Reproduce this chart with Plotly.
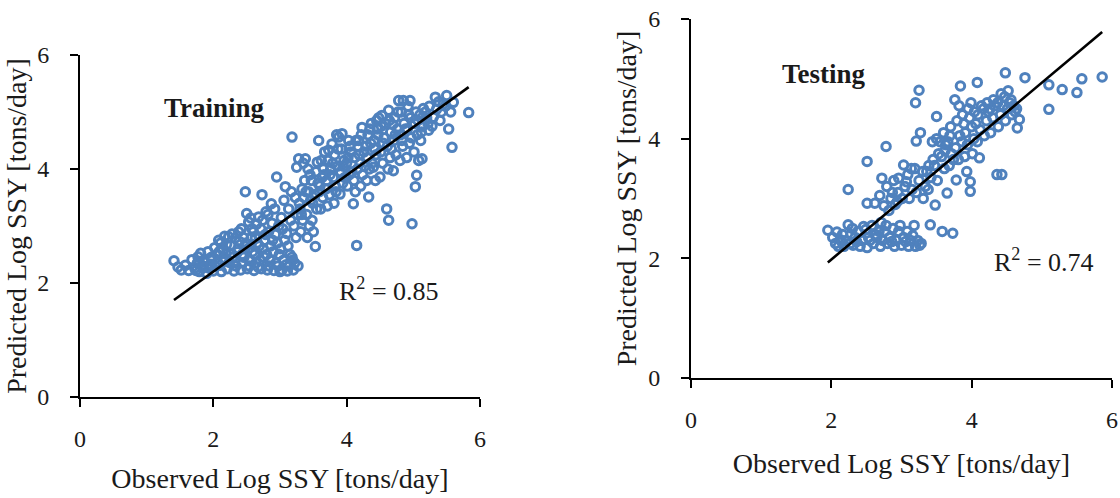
import plotly.graph_objects as go

# Training set: observed vs predicted log suspended sediment yield
train_observed = [
    1.41,
    1.52, 1.47,
    1.63, 1.58,
    1.72, 1.68, 1.76,
    1.79, 1.83, 1.77, 1.81, 1.86,
    1.90, 1.94, 1.88, 1.97, 1.92,
    2.00, 2.03, 1.98, 2.06, 2.02, 2.08,
    2.12, 2.10, 2.15, 2.14, 2.11, 2.17,
    2.21, 2.24, 2.19, 2.26, 2.23, 2.28,
    2.31, 2.34, 2.30, 2.37, 2.33, 2.39,
    2.41, 2.44, 2.43, 2.47, 2.45, 2.42,
    2.51, 2.55, 2.52, 2.57, 2.53, 2.50, 2.48, 2.56,
    2.61, 2.64, 2.62, 2.66, 2.60, 2.68, 2.65,
    2.72, 2.70, 2.75, 2.77, 2.71, 2.74, 2.73,
    2.81, 2.84, 2.80, 2.86, 2.83, 2.88, 2.82, 2.87,
    2.91, 2.94, 2.90, 2.96, 2.93, 2.98, 2.92, 2.95,
    3.00, 3.03, 3.05, 3.01, 3.07, 3.04, 3.02, 3.06, 3.08,
    3.11, 3.14, 3.19, 3.10, 3.16, 3.13, 3.17,
    3.20, 3.22, 3.18, 3.24, 3.21, 3.26, 3.23, 3.25, 3.28, 3.18,
    3.31, 3.34, 3.30, 3.36, 3.33, 3.37, 3.35,
    3.41, 3.44, 3.40, 3.46, 3.43, 3.47, 3.42, 3.38,
    3.53, 3.50, 3.48, 3.55, 3.52, 3.57, 3.54, 3.56,
    3.61, 3.64, 3.60, 3.66, 3.62, 3.67, 3.58,
    3.71, 3.74, 3.70, 3.76, 3.72, 3.73,
    3.81, 3.84, 3.80, 3.86, 3.82, 3.78, 3.85,
    3.90, 3.94, 3.91, 3.96, 3.92, 3.88,
    4.01, 4.04, 4.00, 4.06, 4.03, 3.93,
    4.10, 4.13, 4.11, 4.16, 4.12, 4.17, 4.14,
    4.15,
    4.21, 4.24, 4.20, 4.26, 4.18, 4.23,
    4.33, 4.30, 4.34, 4.31, 4.36, 4.32, 4.37,
    4.40, 4.44, 4.41, 4.46, 4.45, 4.43,
    4.50, 4.54, 4.51, 4.56, 4.52, 4.53,
    4.60, 4.63, 4.62, 4.65, 4.61, 4.66, 4.64, 4.63,
    4.70, 4.74, 4.71, 4.76, 4.72,
    4.80, 4.84, 4.81, 4.86, 4.82, 4.78,
    4.90, 4.94, 4.91, 4.96, 4.92, 4.85,
    4.98, 5.03, 5.05, 5.01, 5.06, 5.02, 5.04, 4.95,
    5.08, 5.13, 5.11, 5.14, 5.10, 5.15,
    5.23, 5.20, 5.24,
    5.30, 5.33, 5.28, 5.35,
    5.45, 5.40, 5.42,
    5.50, 5.53, 5.48,
    5.58, 5.60, 5.56,
    5.83,
    1.74, 1.85, 1.96, 2.05, 2.09, 2.18, 2.20, 2.27, 2.32, 2.36,
    2.38, 2.46, 2.49, 2.54, 2.58, 2.59, 2.63, 2.67, 2.69, 2.76,
    2.78, 2.79, 2.85, 2.89, 2.97, 2.99, 3.09, 3.12, 3.15, 3.27,
    3.29, 3.32, 3.39, 3.45, 3.49, 3.59, 3.63, 3.65, 3.69, 3.75,
    3.79, 3.83, 3.87, 3.95, 3.97, 4.02, 4.05, 4.08, 4.19, 4.22,
    4.27, 4.29, 4.35, 4.38, 4.42, 4.47, 4.48, 4.55, 4.58, 4.67,
    4.69, 4.73, 4.77, 4.83, 4.88, 4.93, 4.97, 5.07, 5.12, 5.18,
    5.22, 5.38,
]
train_predicted = [
    2.39,
    2.23, 2.28,
    2.22, 2.31,
    2.26, 2.41, 2.35,
    2.20, 2.31, 2.46, 2.52, 2.38,
    2.17, 2.26, 2.36, 2.45, 2.55,
    2.21, 2.29, 2.40, 2.50, 2.62, 2.75,
    2.20, 2.31, 2.44, 2.58, 2.70, 2.82,
    2.25, 2.36, 2.51, 2.66, 2.81, 2.86,
    2.21, 2.30, 2.46, 2.60, 2.79, 2.73,
    2.23, 2.35, 2.50, 2.65, 2.80, 2.95,
    2.25, 2.40, 2.60, 2.80, 3.07, 3.22, 3.60, 3.14,
    2.22, 2.35, 2.50, 2.70, 2.90, 3.16, 3.03,
    2.25, 2.40, 2.60, 2.75, 2.95, 3.10, 3.55,
    2.23, 2.30, 2.50, 2.65, 2.90, 3.05, 3.20, 3.39,
    2.22, 2.35, 2.55, 2.70, 2.85, 3.00, 3.30, 3.86,
    2.20, 2.23, 2.40, 2.60, 2.75, 2.95, 3.15, 3.45, 3.69,
    2.21, 2.30, 2.40, 2.87, 3.10, 3.30, 3.60,
    2.23, 2.35, 2.45, 2.80, 3.00, 3.20, 3.50, 4.03, 4.18, 4.56,
    2.90, 3.10, 3.30, 3.50, 3.65, 3.80, 4.10,
    2.80, 3.00, 3.20, 3.45, 3.60, 3.80, 4.00, 4.18,
    2.64, 2.90, 3.10, 3.30, 3.55, 3.75, 3.95, 4.12,
    3.30, 3.50, 3.70, 3.90, 4.15, 4.30, 4.50,
    3.35, 3.55, 3.80, 4.00, 4.15, 4.33,
    3.40, 3.60, 3.85, 4.05, 4.25, 4.44, 4.60,
    3.56, 3.75, 3.95, 4.15, 4.35, 4.56,
    3.70, 3.90, 4.10, 4.30, 4.50, 4.62,
    3.39, 3.60, 3.80, 4.00, 4.20, 4.40, 4.50,
    2.66,
    3.70, 3.90, 4.10, 4.30, 4.50, 4.73,
    3.51, 3.80, 4.00, 4.20, 4.45, 4.60, 4.80,
    4.03, 4.25, 4.50, 4.70, 4.85, 3.80,
    3.86, 4.10, 4.30, 4.55, 4.75, 4.94,
    3.30, 3.10, 4.00, 4.20, 4.40, 4.65, 4.85, 5.03,
    3.97, 4.25, 4.50, 4.70, 4.90,
    4.15, 4.40, 4.60, 4.80, 5.00, 5.20,
    4.20, 4.45, 4.70, 4.90, 5.10, 5.20,
    3.04, 3.69, 3.89, 4.30, 4.60, 4.80, 5.00, 5.20,
    4.15, 4.18, 4.50, 4.75, 4.95, 5.06,
    4.68, 4.90, 5.10,
    4.91, 5.26, 4.75, 5.05,
    5.14, 4.85, 5.00,
    5.29, 4.70, 5.10,
    4.38, 5.17, 5.00,
    4.99,
    2.22, 2.27, 2.33, 2.36, 2.55, 2.40, 2.68, 2.52, 2.38, 2.55,
    2.90, 2.45, 2.70, 2.30, 2.95, 2.55, 2.80, 2.28, 2.65, 2.45,
    2.85, 3.25, 2.40, 2.75, 2.30, 2.50, 2.32, 2.65, 2.50, 2.30,
    3.40, 3.20, 3.60, 3.90, 3.40, 3.60, 3.85, 4.00, 3.65, 3.90,
    4.10, 3.70, 4.35, 4.05, 3.85, 4.20, 4.40, 3.95, 4.25, 4.60,
    4.05, 4.40, 4.70, 4.10, 4.35, 4.60, 4.90, 4.45, 4.80, 4.35,
    4.78, 4.60, 5.00, 4.50, 4.70, 4.95, 4.55, 4.85, 4.65, 5.00,
    4.80, 5.18,
]

# Testing set
test_observed = [
    1.95,
    2.02, 2.06,
    2.10, 2.13, 2.08,
    2.18, 2.21, 2.16, 2.24,
    2.24, 2.27,
    2.31, 2.34, 2.30,
    2.41, 2.44, 2.38, 2.46,
    2.51, 2.53, 2.49, 2.51, 2.51,
    2.60, 2.63, 2.58, 2.62,
    2.70, 2.73, 2.68, 2.71, 2.75, 2.69, 2.72,
    2.80, 2.83, 2.78, 2.82, 2.85, 2.79, 2.78,
    2.90, 2.93, 2.88, 2.91, 2.95, 2.89,
    3.00, 3.03, 2.98, 3.01, 3.05, 2.96, 3.03,
    3.10, 3.13, 3.08, 3.11, 3.15, 3.09,
    3.20, 3.23, 3.18, 3.21, 3.25, 3.19, 3.21, 3.20,
    3.28, 3.31, 3.34, 3.30, 3.27, 3.25,
    3.41, 3.38, 3.42, 3.39, 3.44,
    3.48, 3.51, 3.47, 3.53, 3.50, 3.50,
    3.58, 3.61, 3.57, 3.63, 3.60,
    3.65, 3.73, 3.68, 3.71, 3.66, 3.70,
    3.78, 3.81, 3.77, 3.83, 3.79, 3.82, 3.76,
    3.84, 3.87,
    3.93, 3.90, 3.94, 3.91, 3.95,
    3.98, 3.98, 4.01, 4.03, 4.00, 4.04, 3.99,
    4.11, 4.08, 4.12, 4.09, 4.08,
    4.18, 4.21, 4.17, 4.22,
    4.27, 4.30, 4.26, 4.31,
    4.36, 4.43, 4.38, 4.41, 4.37, 4.42,
    4.48, 4.51, 4.47, 4.52, 4.48,
    4.57, 4.60, 4.56,
    4.65, 4.68, 4.64,
    4.76,
    5.10, 5.10,
    5.29,
    5.50,
    5.57,
    5.86,
    2.15, 2.28, 2.36, 2.55, 2.65, 2.76, 2.86, 2.96, 3.06, 3.16,
    3.26, 2.87, 2.94, 3.07, 3.14, 3.36, 3.45, 3.55, 3.62, 3.69,
    3.74, 3.86, 3.89, 3.97, 4.06, 4.14, 4.24, 4.33, 4.45, 4.54,
    4.62,
]
test_predicted = [
    2.47,
    2.35, 2.25,
    2.20, 2.31, 2.44,
    2.20, 2.30, 2.40, 2.56,
    3.15, 2.25,
    2.22, 2.35, 2.50,
    2.20, 2.30, 2.45, 2.53,
    2.18, 2.35, 2.48, 2.92, 3.62,
    2.25, 2.40, 2.55, 2.92,
    2.20, 2.30, 2.45, 2.60, 2.88, 3.05, 3.34,
    2.25, 2.35, 2.55, 2.80, 3.00, 3.20, 3.87,
    2.20, 2.30, 2.50, 2.90, 3.10, 3.30,
    2.22, 2.35, 2.55, 3.00, 3.20, 3.34, 3.56,
    2.20, 2.30, 2.45, 3.00, 3.15, 3.40,
    2.20, 2.30, 2.55, 3.10, 3.30, 3.50, 3.96, 4.60,
    2.25, 3.00, 3.20, 3.45, 4.10, 4.81,
    2.56, 3.15, 3.35, 3.55, 3.95,
    2.89, 3.30, 3.55, 3.75, 4.00, 4.37,
    2.45, 3.50, 3.70, 3.90, 4.10,
    3.09, 2.42, 3.55, 3.75, 3.95, 4.20,
    3.31, 3.65, 3.85, 4.05, 4.30, 4.55, 4.65,
    4.88, 4.40,
    3.45, 3.70, 3.90, 4.10, 4.50,
    3.12, 3.28, 3.75, 4.00, 4.20, 4.45, 4.60,
    3.68, 3.95, 4.15, 4.40, 4.94,
    4.05, 4.30, 4.50, 4.60,
    4.10, 4.35, 4.50, 4.65,
    3.40, 3.40, 4.20, 4.40, 4.60, 4.75,
    4.30, 4.50, 4.70, 4.80, 5.10,
    4.40, 4.55, 4.65,
    4.18, 4.32, 4.50,
    5.02,
    4.49, 4.90,
    4.82,
    4.77,
    5.00,
    5.03,
    2.28, 2.40, 2.28, 2.30, 2.35, 2.45, 2.28, 2.45, 2.28, 2.38,
    2.22, 3.10, 2.95, 3.28, 3.50, 3.45, 3.65, 3.95, 3.80, 4.05,
    3.65, 3.95, 4.25, 4.35, 4.25, 4.55, 4.45, 4.55, 4.55, 4.60,
    4.45,
]

# Linear trendlines (slope, intercept) and R² labels
train_trend = (0.845, 0.51)
test_trend = (0.985, 0.01)
train_r2 = "0.85"
test_r2 = "0.74"

axis_ticks = [0, 2, 4, 6]

assert len(train_observed) == len(train_predicted)
assert len(test_observed) == len(test_predicted)

FONT = "Palatino Linotype, Book Antiqua, Palatino, Liberation Serif, serif"
BLUE = "#4F81BD"
INK = "#1a1a1a"

fig = go.Figure()


def add_panel(obs, pred, trend, xa, ya):
    fig.add_trace(go.Scatter(
        x=obs, y=pred, mode="markers", xaxis=xa, yaxis=ya,
        marker=dict(symbol="circle-open", size=8.5, color=BLUE,
                    line=dict(width=3, color=BLUE)),
        showlegend=False, hoverinfo="x+y",
    ))
    x0, x1 = min(obs), max(obs)
    m, b = trend
    fig.add_trace(go.Scatter(
        x=[x0, x1], y=[m * x0 + b, m * x1 + b], mode="lines",
        xaxis=xa, yaxis=ya, line=dict(color="black", width=2.6),
        showlegend=False, hoverinfo="skip",
    ))


add_panel(train_observed, train_predicted, train_trend, "x", "y")
add_panel(test_observed, test_predicted, test_trend, "x2", "y2")

W, H = 1120, 498

common = dict(
    range=[0, 6], tickvals=axis_ticks, ticktext=[str(t) for t in axis_ticks],
    showline=True, linecolor="black", linewidth=2,
    ticks="outside", ticklen=8, tickwidth=2, tickcolor="black",
    showgrid=False, zeroline=False, automargin=False,
    tickfont=dict(family=FONT, size=24, color=INK),
    title_font=dict(family=FONT, size=28, color=INK),
)

fig.update_layout(
    width=W, height=H,
    margin=dict(l=0, r=0, t=0, b=0),
    paper_bgcolor="white", plot_bgcolor="white",
    xaxis=dict(common, domain=[80 / W, 480 / W], anchor="y",
               ticklabelstandoff=11,
               title=dict(text="Observed Log SSY [tons/day]", standoff=18)),
    yaxis=dict(common, domain=[(H - 397) / H, (H - 55) / H], anchor="x",
               ticklabelstandoff=16,
               title=dict(text="Predicted Log SSY [tons/day]", standoff=2)),
    xaxis2=dict(common, domain=[691 / W, 1112 / W], anchor="y2",
                ticklabelstandoff=11,
                title=dict(text="Observed Log SSY [tons/day]", standoff=22)),
    yaxis2=dict(common, domain=[(H - 378) / H, (H - 19) / H], anchor="x2",
                ticklabelstandoff=16,
                title=dict(text="Predicted Log SSY [tons/day]", standoff=3)),
)

label_font = dict(family=FONT, size=26, color=INK)
fig.add_annotation(x=2.02, y=5.07, xref="x", yref="y", text="<b>Training</b>",
                   showarrow=False, font=dict(label_font, size=27))
fig.add_annotation(x=4.63, y=1.88, xref="x", yref="y",
                   text=f"R<sup>2</sup> = {train_r2}", showarrow=False, font=label_font)
fig.add_annotation(x=1.9, y=5.08, xref="x2", yref="y2", text="<b>Testing</b>",
                   showarrow=False, font=dict(label_font, size=27))
fig.add_annotation(x=5.03, y=1.96, xref="x2", yref="y2",
                   text=f"R<sup>2</sup> = {test_r2}", showarrow=False, font=label_font)

fig.write_html("out.html")
